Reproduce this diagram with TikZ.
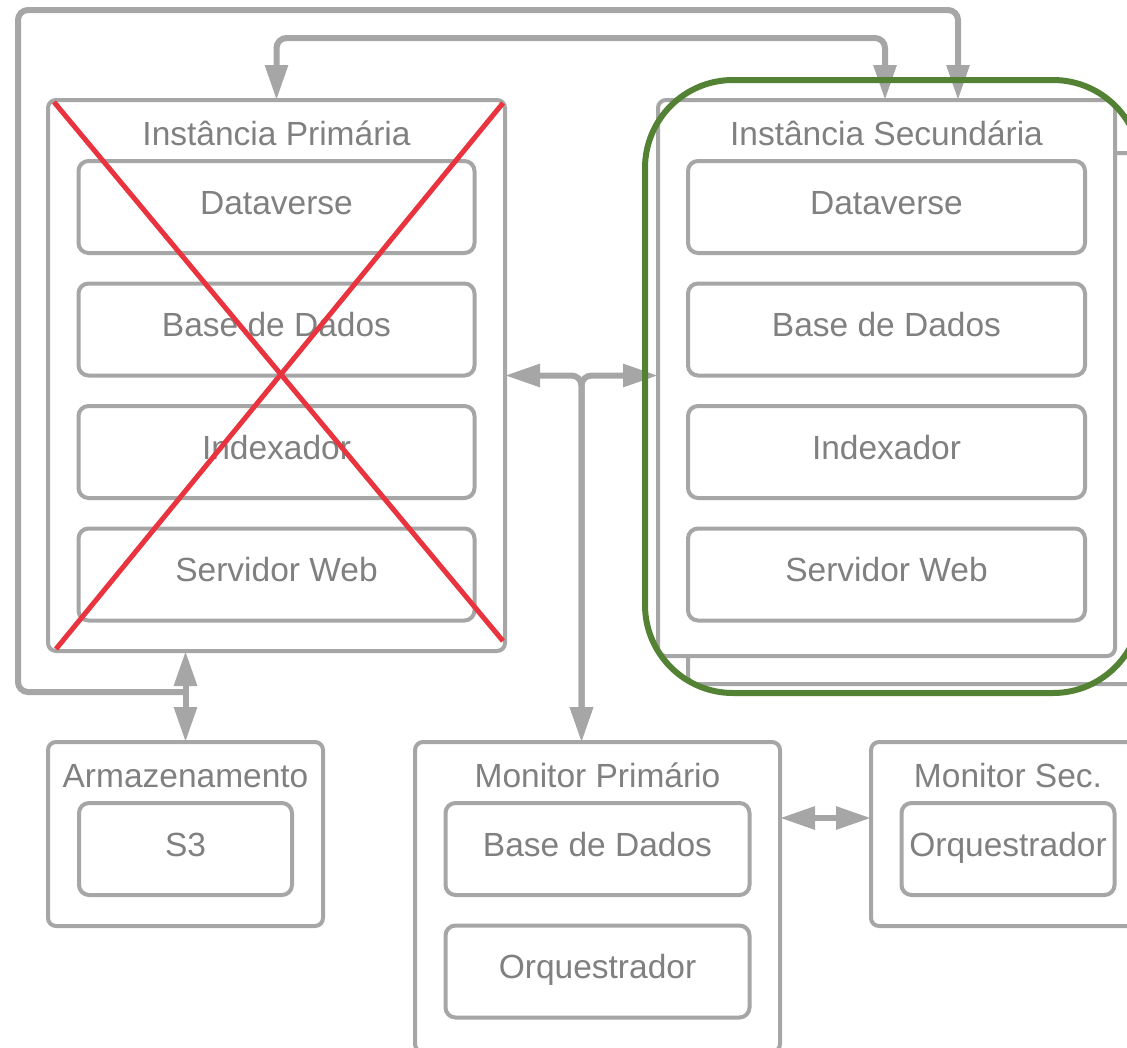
\documentclass[tikz,border=0pt]{standalone}
\usepackage{fontspec}
\setmainfont{Liberation Sans}
\usetikzlibrary{positioning, calc, arrows.meta}
\definecolor{boxgray}{RGB}{166,166,166}
\definecolor{textgray}{RGB}{128,128,128}
\definecolor{crossred}{RGB}{233,52,64}
\definecolor{framegreen}{RGB}{84,130,53}
\begin{document}
\begin{tikzpicture}[
    x=1pt, y=-1pt,
    font=\fontsize{33.5}{40}\selectfont,
    container/.style={rectangle, draw=boxgray, line width=4pt, fill=white, rounded corners=8pt, outer sep=0pt, inner sep=0pt},
    component/.style={rectangle, draw=boxgray, line width=4pt, fill=white, rounded corners=10pt, outer sep=0pt, minimum height=92pt, text=textgray, text height=25pt, text depth=11pt},
    title/.style={text=textgray, inner sep=0pt, text height=25pt, text depth=11pt},
    arrow/.style={draw=boxgray, line width=6pt, rounded corners=10pt, ->, >={Triangle[length=35pt, width=22pt]}},
    biarrow/.style={arrow, <->},
    cross/.style={draw=crossred, line width=5pt},
    failover/.style={draw=framegreen, line width=6pt, rounded corners=88pt}
    ]
    \useasboundingbox (0,0) rectangle (1127,1047);

    % secondary instance (stacked)
    \node[container, minimum width=472pt, minimum height=531pt] (secback) at (924,418.5) {};
    \node[container, minimum width=457pt, minimum height=556pt] (sec) at (886.5,378) {};
    \node[title, below=20pt of sec.north] (sectitle) {Instância Secundária};
    \node[component, minimum width=397pt, below=61pt of sec.north] (secdv) {Dataverse};
    \node[component, minimum width=397pt, below=30.5pt of secdv] (secdb) {Base de Dados};
    \node[component, minimum width=397pt, below=30.5pt of secdb] (secidx) {Indexador};
    \node[component, minimum width=397pt, below=30.5pt of secidx] (secweb) {Servidor Web};

    % primary instance
    \node[container, minimum width=457pt, minimum height=551pt] (prim) at (276.5,375.5) {};
    \node[title, below=20pt of prim.north] (primtitle) {Instância Primária};
    \node[component, minimum width=396pt, below=61pt of prim.north] (primdv) {Dataverse};
    \node[component, minimum width=396pt, below=30.5pt of primdv] (primdb) {Base de Dados};
    \node[component, minimum width=396pt, below=30.5pt of primdb] (primidx) {Indexador};
    \node[component, minimum width=396pt, below=30.5pt of primidx] (primweb) {Servidor Web};

    % storage
    \node[container, minimum width=275pt, minimum height=184pt] (store) at (185.5,834) {};
    \node[title, below=20pt of store.north] (storetitle) {Armazenamento};
    \node[component, minimum width=213pt, below=61pt of store.north] (s3) {S3};

    % monitors
    \node[container, minimum width=365pt, minimum height=310pt] (monp) at (597.5,897) {};
    \node[title, below=20pt of monp.north] (monptitle) {Monitor Primário};
    \node[component, minimum width=304pt, below=61pt of monp.north] (monpdb) {Base de Dados};
    \node[component, minimum width=304pt, below=30.5pt of monpdb] (monporq) {Orquestrador};

    \node[container, minimum width=274pt, minimum height=184pt] (mons) at (1008,834) {};
    \node[title, below=20pt of mons.north] (monstitle) {Monitor Sec.};
    \node[component, minimum width=213pt, below=61pt of mons.north] (monsorq) {Orquestrador};

    % failed primary
    \draw[cross] ($(prim.north west)+(6,2)$) -- ($(prim.south east)+(-2,-10)$);
    \draw[cross] ($(prim.north east)+(-2,3)$) -- ($(prim.south west)+(8,-2)$);

    % connectors
    \coordinate (mid) at ($(prim.east)!0.5!(sec.west)$);
    \coordinate (toplink) at (580,38);
    \coordinate (loopcorner) at (18,10);
    \coordinate (storejoin) at ($(store.north)+(0,-50)$);
    \coordinate (monlink) at ($(mons.west)+(0,-16)$);

    \draw[biarrow] (prim.north) |- (toplink) -| ($(sec.north)+(-1.5,0)$);
    \draw[arrow] (storejoin) -| (loopcorner) -| ($(sec.north)+(71.5,0)$);
    \draw[biarrow] (store.north |- prim.south) -- (store.north);
    \draw[biarrow] (prim.east) -| (mid |- monp.north);
    \draw[biarrow] (sec.west |- prim.east) -| (mid |- monp.north);
    \draw[biarrow] (monp.east |- monlink) -- (monlink);

    % new active instance
    \draw[failover] (645,80) rectangle (1141,693);
\end{tikzpicture}
\end{document}
